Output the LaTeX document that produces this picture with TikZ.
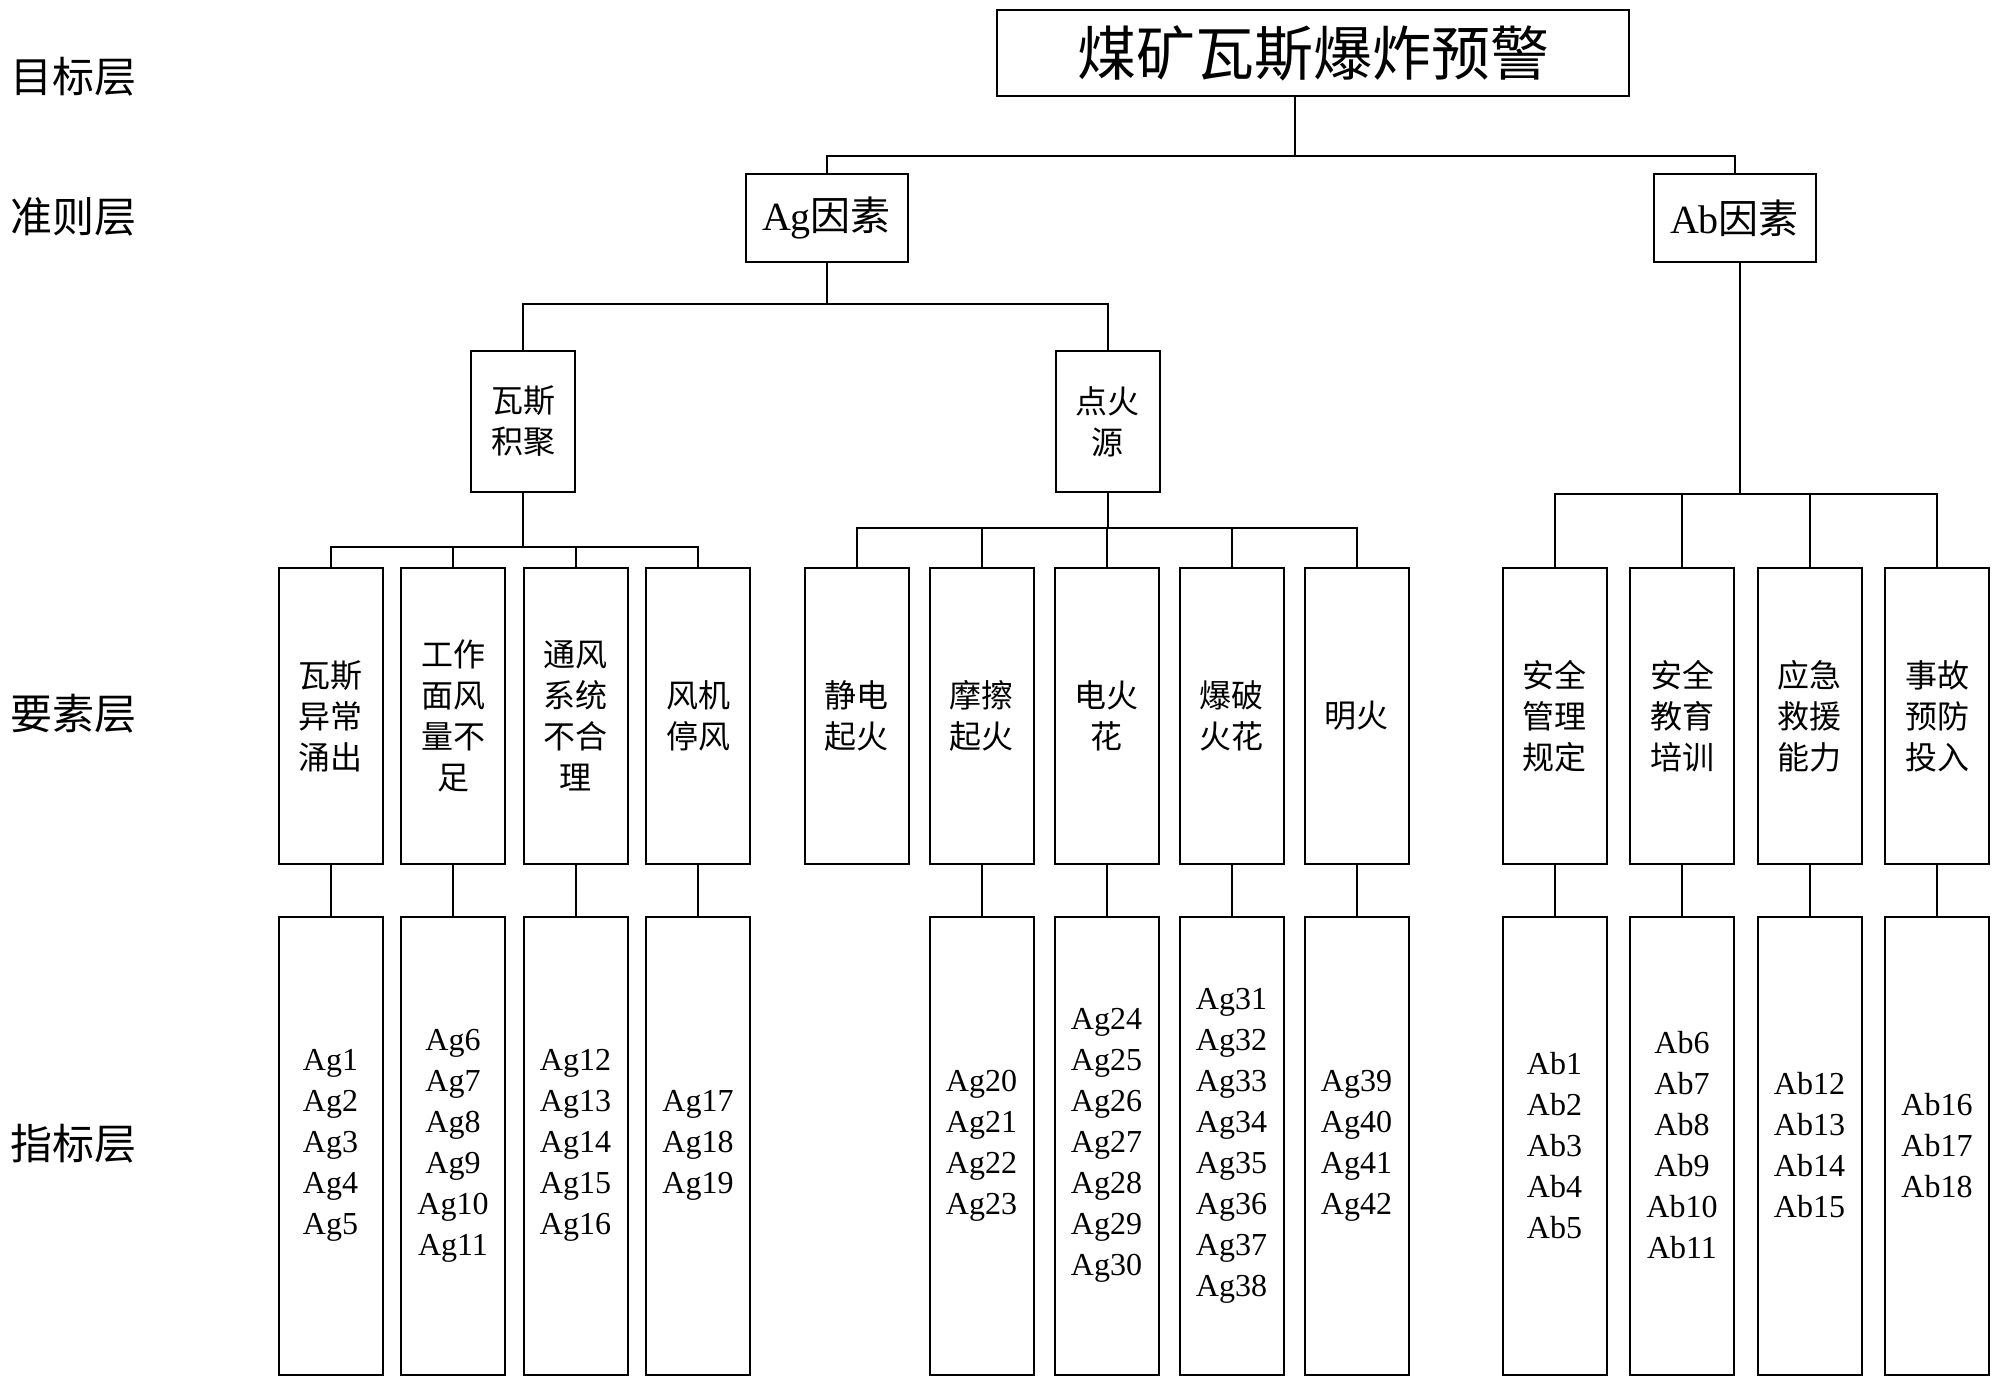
\documentclass[tikz,border=0pt]{standalone}
\usepackage{fontspec}
\setmainfont{Liberation Serif}
\newfontfamily\cjk{Noto Sans CJK SC}
\usetikzlibrary{positioning}

\begin{document}
\begin{tikzpicture}[
  x=0.5pt,y=-0.5pt,
  box/.style={draw,line width=1pt,inner sep=0pt,align=center},
  goal/.style={box,minimum width=316pt,minimum height=43pt,font=\cjk\fontsize{29.5}{34}\selectfont},
  crit/.style={box,minimum width=81pt,minimum height=44pt,font=\fontsize{20}{24}\selectfont},
  sub/.style={box,minimum width=52pt,minimum height=70.5pt,font=\cjk\fontsize{16}{20.5}\selectfont},
  elem/.style={box,minimum width=52pt,minimum height=147.5pt,font=\cjk\fontsize{16}{20.5}\selectfont},
  ind/.style={box,minimum width=52pt,minimum height=229pt,font=\fontsize{16}{20.5}\selectfont},
  lvl/.style={anchor=west,inner sep=0pt,font=\cjk\fontsize{21}{25}\selectfont},
  link/.style={line width=1pt},
]
\useasboundingbox (0,0) rectangle (2000,1384);

% --- layer names ---
\node[lvl] (l1) at (10,77)   {目标层};
\node[lvl] (l2) at (10,217)  {准则层};
\node[lvl] (l3) at (10,714)  {要素层};
\node[lvl] (l4) at (10,1144) {指标层};

% --- goal and criteria ---
\node[goal] (top) at (1313,53) {煤矿瓦斯爆炸预警};
\node[crit] (ag) at (826.5,218)  {Ag{\cjk 因素}};
\node[crit] (ab) at (1734.5,218) {Ab{\cjk 因素}};

% --- Ag sub-factors ---
\node[sub] (gas) at (523,421.5)  {瓦斯\\积聚};
\node[sub] (ign) at (1107.5,421.5) {点火\\源};

% --- elements: gas accumulation ---
\node[elem] (g1) at (330.5,716)      {瓦斯\\异常\\涌出};
\node[elem,right=8.25pt of g1] (g2) {工作\\面风\\量不\\足};
\node[elem,right=8.25pt of g2] (g3) {通风\\系统\\不合\\理};
\node[elem,right=8.25pt of g3] (g4) {风机\\停风};

% --- elements: ignition source ---
\node[elem] (i1) at (856.5,716)     {静电\\起火};
\node[elem,right=9.5pt of i1] (i2) {摩擦\\起火};
\node[elem,right=9.5pt of i2] (i3) {电火\\花};
\node[elem,right=9.5pt of i3] (i4) {爆破\\火花};
\node[elem,right=9.5pt of i4] (i5) {明火};

% --- elements: Ab ---
\node[elem] (b1) at (1554.5,716)      {安全\\管理\\规定};
\node[elem,right=10.75pt of b1] (b2) {安全\\教育\\培训};
\node[elem,right=10.75pt of b2] (b3) {应急\\救援\\能力};
\node[elem,right=10.75pt of b3] (b4) {事故\\预防\\投入};

% --- indicators ---
\node[ind,below=25.5pt of g1] (g1-ind) {Ag1\\Ag2\\Ag3\\Ag4\\Ag5};
\node[ind,below=25.5pt of g2] (g2-ind) {Ag6\\Ag7\\Ag8\\Ag9\\Ag10\\Ag11};
\node[ind,below=25.5pt of g3] (g3-ind) {Ag12\\Ag13\\Ag14\\Ag15\\Ag16};
\node[ind,below=25.5pt of g4] (g4-ind) {Ag17\\Ag18\\Ag19};
\node[ind,below=25.5pt of i2] (i2-ind) {Ag20\\Ag21\\Ag22\\Ag23};
\node[ind,below=25.5pt of i3] (i3-ind) {Ag24\\Ag25\\Ag26\\Ag27\\Ag28\\Ag29\\Ag30};
\node[ind,below=25.5pt of i4] (i4-ind) {Ag31\\Ag32\\Ag33\\Ag34\\Ag35\\Ag36\\Ag37\\Ag38};
\node[ind,below=25.5pt of i5] (i5-ind) {Ag39\\Ag40\\Ag41\\Ag42};
\node[ind,below=25.5pt of b1] (b1-ind) {Ab1\\Ab2\\Ab3\\Ab4\\Ab5};
\node[ind,below=25.5pt of b2] (b2-ind) {Ab6\\Ab7\\Ab8\\Ab9\\Ab10\\Ab11};
\node[ind,below=25.5pt of b3] (b3-ind) {Ab12\\Ab13\\Ab14\\Ab15};
\node[ind,below=25.5pt of b4] (b4-ind) {Ab16\\Ab17\\Ab18};

% --- tree connectors ---
\draw[link] ([xshift=-9pt]top.south) -- ++(0,59) coordinate (j0);
\draw[link] (j0) -| (ag.north);
\draw[link] (j0) -| (ab.north);
\foreach \s in {gas,ign} \draw[link] (ag.south) -- ++(0,41) -| (\s.north);
\foreach \e in {g1,g2,g3,g4} \draw[link] (gas.south) -- ++(0,54) -| (\e.north);
\foreach \e in {i1,i2,i3,i4,i5} \draw[link] (ign.south) -- ++(0,35) -| (\e.north);
\foreach \e in {b1,b2,b3,b4} \draw[link] ([xshift=2.75pt]ab.south) -- ++(0,231) -| (\e.north);
\foreach \e in {g1,g2,g3,g4,i2,i3,i4,i5,b1,b2,b3,b4} \draw[link] (\e.south) -- (\e-ind.north);

\end{tikzpicture}
\end{document}
